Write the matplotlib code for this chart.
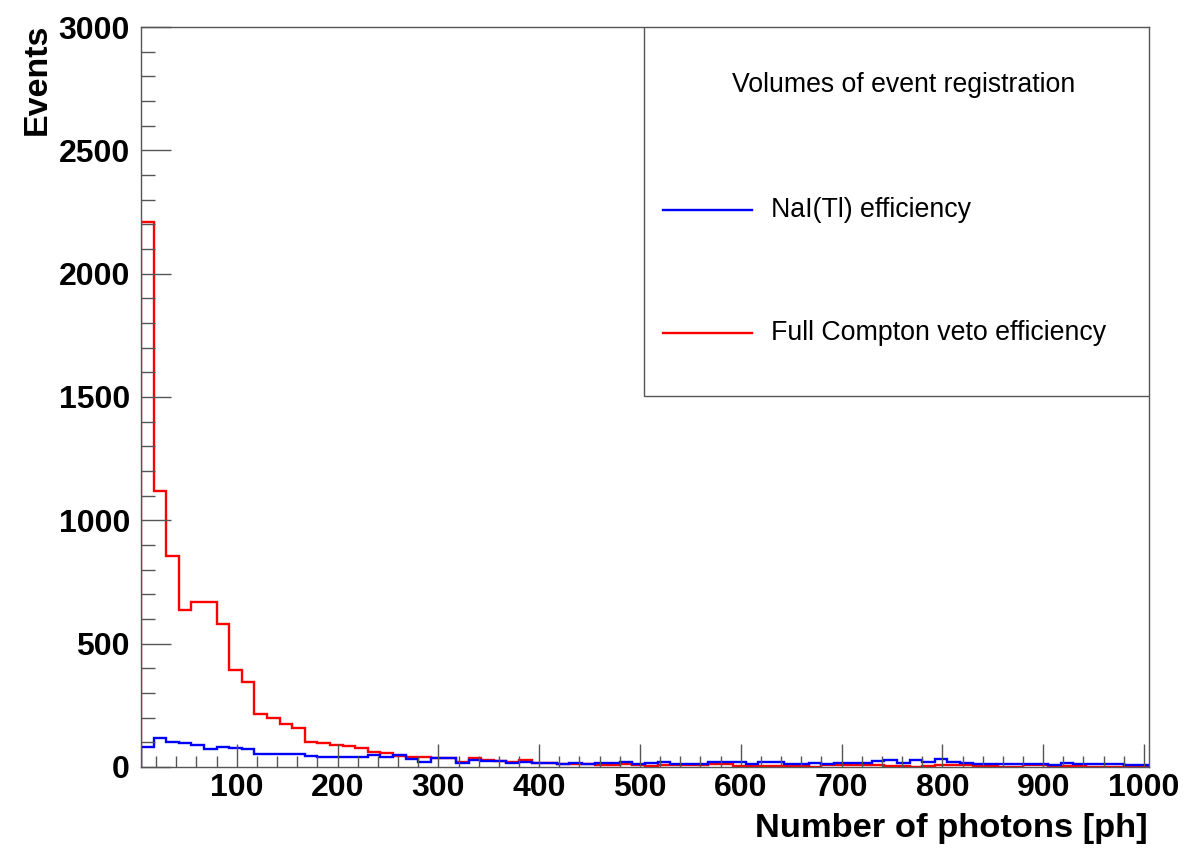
import numpy as np
import matplotlib
matplotlib.use("Agg")
import matplotlib.pyplot as plt
from matplotlib.ticker import MultipleLocator
from matplotlib.patches import Rectangle
from matplotlib.lines import Line2D

plt.rcParams['font.family'] = ['Liberation Sans', 'DejaVu Sans']

# Histogram binning: 80 bins from 5 to 1005 photons
x_min = 5.0
bin_width = 12.5
n_bins = 80
edges = x_min + bin_width * np.arange(n_bins + 1)

nai_counts = [
    82, 116, 103, 96, 88, 72, 82, 76, 72, 53,
    53, 51, 51, 45, 42, 40, 39, 39, 49, 42,
    50, 31, 22, 35, 35, 15, 28, 24, 24, 18,
    19, 18, 18, 12, 18, 14, 16, 16, 20, 14,
    15, 19, 12, 12, 12, 19, 19, 22, 13, 19,
    19, 12, 12, 15, 11, 15, 15, 15, 26, 28,
    18, 28, 22, 31, 22, 15, 11, 11, 11, 11,
    13, 13, 8, 16, 12, 12, 11, 11, 10, 8,
]

compton_counts = [
    2210, 1120, 855, 635, 670, 670, 580, 395, 345, 215,
    200, 175, 157, 103, 97, 88, 85, 78, 59, 58,
    46, 42, 42, 36, 36, 22, 38, 28, 26, 19,
    28, 15, 15, 11, 11, 11, 10, 10, 11, 8,
    4, 8, 8, 8, 8, 11, 11, 4, 4, 4,
    4, 4, 4, 0, 8, 8, 8, 8, 8, 5,
    5, 2, 6, 8, 8, 8, 6, 6, 2, 2,
    8, 8, 2, 4, 4, 2, 2, 2, 4, 3,
]

series_labels = ["NaI(Tl) efficiency", "Full Compton veto efficiency"]
series_colors = ["#0000ff", "#ff0000"]
legend_title = "Volumes of event registration"
x_title = "Number of photons [ph]"
y_title = "Events"

fig = plt.figure(figsize=(11.89, 8.48), dpi=100)
ax = fig.add_axes([141/1189, 1 - 767/848, 1008/1189, 740/848])

ax.stairs(compton_counts, edges, color=series_colors[1], lw=1.7, baseline=0)
ax.stairs(nai_counts, edges, color=series_colors[0], lw=1.7, baseline=0)

ax.set_xlim(edges[0], edges[-1])
ax.set_ylim(0, 3000)

ax.xaxis.set_major_locator(MultipleLocator(100))
ax.xaxis.set_minor_locator(MultipleLocator(20))
ax.yaxis.set_major_locator(MultipleLocator(500))
ax.yaxis.set_minor_locator(MultipleLocator(100))

ax.tick_params(axis='x', which='major', direction='in', length=16.5, width=1,
               color='#555555', pad=4, labelsize=23)
ax.tick_params(axis='x', which='minor', direction='in', length=8, width=1,
               color='#555555')
ax.tick_params(axis='y', which='major', direction='in', length=21.6, width=1,
               color='#555555', pad=8, labelsize=23)
ax.tick_params(axis='y', which='minor', direction='in', length=10, width=1,
               color='#555555')
ax.tick_params(top=False, right=False, which='both')
for lab in ax.get_xticklabels() + ax.get_yticklabels():
    lab.set_fontweight('bold')

for sp in ax.spines.values():
    sp.set_color('#555555')
    sp.set_linewidth(1)

fig.text(1148/1189, 1 - 829/848, x_title, ha='right', va='center',
         fontsize=24.8, fontweight='bold')
fig.text(37/1189, 1 - 24/848, y_title, ha='center', va='top', rotation=90,
         fontsize=24.5, fontweight='bold')

# Legend box (ROOT-style TLegend)
ax.add_patch(Rectangle((0.499, 0.5014), 0.501, 0.4986, transform=ax.transAxes,
                       facecolor='white', edgecolor='#555555', lw=1, zorder=5))
ax.text(0.757, 0.9216, legend_title, transform=ax.transAxes, ha='center',
        va='center', fontsize=19.2, zorder=6)
for y, lab, col in zip([0.7527, 0.5865], series_labels, series_colors):
    ax.add_line(Line2D([0.518, 0.606], [y, y], transform=ax.transAxes,
                       color=col, lw=1.7, zorder=6))
    ax.text(0.625, y, lab, transform=ax.transAxes, ha='left', va='center',
            fontsize=19.3, zorder=6)

fig.savefig("out.png", dpi=100)
